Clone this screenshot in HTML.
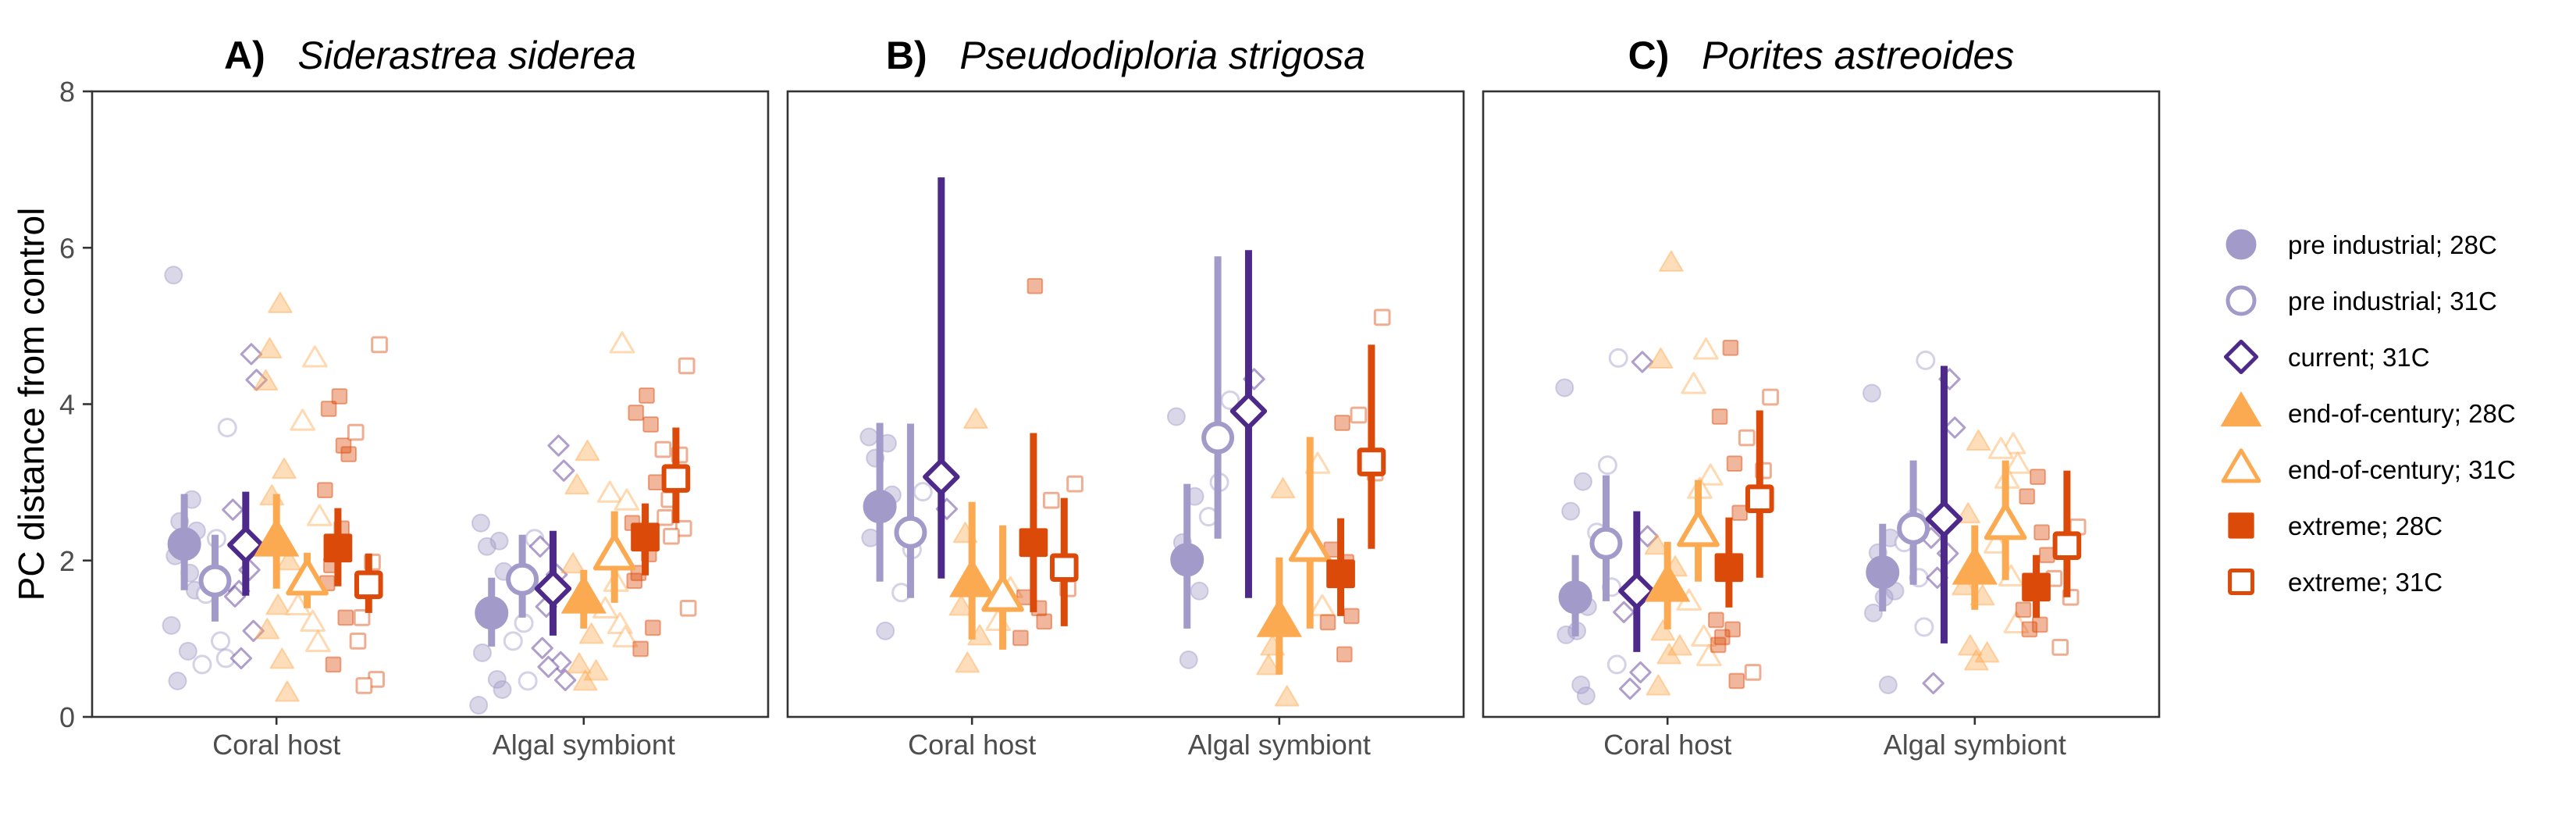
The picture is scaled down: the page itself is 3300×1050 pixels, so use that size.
<!DOCTYPE html>
<html><head><meta charset="utf-8">
<style>
html,body{margin:0;padding:0;background:#fff;}
svg{display:block;font-family:"Liberation Sans",Arial,sans-serif;}
</style></head>
<body>
<svg id="chart" width="3300" height="1050" viewBox="0 0 3300 1050" xmlns="http://www.w3.org/2000/svg">
<rect width="3300" height="1050" fill="#fff"/>
<g id="plots"></g>
<g id="legend"></g>
</svg>
<script>
// ---------- data ----------
const panelTitles = ["A)", "B)", "C)"];
const speciesNames = ["Siderastrea siderea", "Pseudodiploria strigosa", "Porites astreoides"];
const categories = ["Coral host", "Algal symbiont"];
const groupLabels = ["pre industrial; 28C","pre industrial; 31C","current; 31C","end-of-century; 28C","end-of-century; 31C","extreme; 28C","extreme; 31C"];
const yTicks = [0, 2, 4, 6, 8];
// means[panel][category][group]
const means = [
  [[2.21,1.74,2.20,2.24,1.74,2.16,1.69],[1.33,1.76,1.64,1.51,2.06,2.30,3.05]],
  [[2.69,2.36,3.07,1.72,1.53,2.23,1.91],[2.01,3.57,3.91,1.21,2.17,1.83,3.26]],
  [[1.53,2.22,1.61,1.66,2.36,1.91,2.79],[1.85,2.41,2.53,1.88,2.45,1.66,2.19]]
];
const errLow = [
  [[1.62,1.22,1.55,1.64,1.39,1.67,1.33],[0.90,1.27,1.04,1.13,1.46,1.81,2.48]],
  [[1.73,1.52,1.77,0.99,0.86,1.34,1.16],[1.13,2.28,1.52,0.54,1.13,1.29,2.15]],
  [[1.03,1.48,0.83,1.12,1.73,1.40,1.78],[1.35,1.69,0.94,1.37,1.75,1.27,1.53]]
];
const errHigh = [
  [[2.85,2.33,2.88,2.85,2.10,2.67,2.09],[1.78,2.33,2.38,1.88,2.63,2.73,3.70]],
  [[3.76,3.75,6.90,2.75,2.45,3.63,2.80],[2.98,5.89,5.97,2.04,3.58,2.54,4.76]],
  [[2.07,3.09,2.63,2.24,3.03,2.55,3.92],[2.47,3.28,4.49,2.45,3.28,2.07,3.15]]
];
// rawPoints[panel][category][group] = list of replicate values
const rawPoints = [
  [
    [[5.65,2.78,2.5,2.38,2.21,2.06,1.84,1.62,1.17,0.84,0.46],[3.7,2.28,1.57,0.97,0.75,0.67],[4.64,4.31,2.65,1.88,1.61,1.54,1.1,0.75],[5.27,4.69,4.28,3.15,2.81,1.98,1.41,1.1,0.72,0.3],[4.58,3.77,2.55,1.81,1.41,1.2,0.94],[4.1,3.94,3.47,3.36,2.9,2.41,1.94,1.71,1.27,0.67],[4.76,3.64,1.98,1.27,0.97,0.48,0.4]],
    [[2.48,2.25,2.18,1.86,1.41,0.82,0.48,0.35,0.15],[2.28,1.2,0.97,0.46],[3.47,3.15,2.18,1.82,1.41,0.88,0.7,0.64,0.47],[3.38,2.95,1.94,1.04,0.66,0.57,0.44],[4.76,2.85,2.75,1.71,1.37,1.17,1.0],[4.11,3.89,3.74,3.0,2.48,2.08,1.84,1.74,1.14,0.87],[4.49,3.42,3.35,2.78,2.55,2.41,2.31,1.39]]
  ],
  [
    [[3.58,3.5,3.31,2.84,2.69,2.29,1.1],[2.88,2.14,1.59],[2.66],[3.79,2.33,1.4,1.02,0.67],[1.63,1.21],[5.51,1.53,1.39,1.22,1.01],[2.98,2.77,1.64]],
    [[3.84,2.82,2.23,1.61,0.73],[4.05,3.0,2.56],[4.32],[2.9,0.89,0.64,0.24],[3.22,2.12,1.4],[3.76,2.14,1.98,1.29,1.21,0.8],[5.11,3.86,3.12]]
  ],
  [
    [[4.21,3.01,2.63,1.41,1.1,1.05,0.41,0.27],[4.59,3.22,2.36,1.66,0.67],[4.54,2.31,1.34,0.57,0.36],[5.8,4.56,2.18,1.9,1.08,0.89,0.78,0.38],[4.68,4.24,3.07,2.9,1.47,1.01,0.76],[4.72,3.84,3.24,2.61,1.24,1.12,1.02,0.92,0.46],[4.09,3.57,3.15,0.57]],
    [[4.14,2.29,2.1,1.61,1.53,1.33,0.41],[4.56,2.55,2.23,1.78,1.15],[4.32,3.7,2.29,2.09,1.78,0.43],[3.51,2.58,1.66,1.53,0.89,0.8,0.7],[3.47,3.41,3.22,3.03,2.2,1.78,1.18],[3.07,2.82,2.36,2.07,1.37,1.18,1.12],[2.43,1.77,1.53,0.89]]
  ]
];

// ---------- styles ----------
const colors = ["#a29ac8","#a29ac8","#4d2a8a","#fcaa52","#fcaa52","#dc4a0a","#dc4a0a"];
const shapes = ["circle","circle","diamond","triangle","triangle","square","square"];
const filled = [true,false,false,true,false,true,false];
const NS = "http://www.w3.org/2000/svg";
const panelLeft = [118, 1009, 1900];
const panelW = 866, plotTop = 117, plotBottom = 918;
const yMax = 8;
function yScale(v){ return plotBottom - v/yMax*(plotBottom-plotTop); }
function xScale(p, cat, g){ const u = panelW/2.2; return panelLeft[p] + (cat+1-0.4 + (g-3)*0.1)*u; }
function mk(tag, attrs, parent){ const e=document.createElementNS(NS,tag); for(const k in attrs) e.setAttribute(k,attrs[k]); parent.appendChild(e); return e; }

function drawShape(parent, shape, x, y, size, color, isFilled, sw, fillOp, strokeOp){
  let e;
  const fill = isFilled ? color : (fillOp===0 ? "none" : "#fff");
  const common = {fill:fill, stroke:color, "stroke-width":sw, "fill-opacity":isFilled?fillOp:1, "stroke-opacity":strokeOp, "stroke-linejoin":"round"};
  if(shape==="circle"){ e = mk("circle", Object.assign({cx:x, cy:y, r:size}, common), parent); }
  else if(shape==="square"){ const s=size*0.85; e = mk("rect", Object.assign({x:x-s, y:y-s, width:2*s, height:2*s, rx:2}, common), parent); }
  else if(shape==="diamond"){ const d=size*1.15; e = mk("polygon", Object.assign({points:`${x},${y-d} ${x+d},${y} ${x},${y+d} ${x-d},${y}`}, common), parent); }
  else { const w=size*1.35, h=size*2.3; e = mk("polygon", Object.assign({points:`${x},${y-h*0.62} ${x+w},${y+h*0.38} ${x-w},${y+h*0.38}`}, common), parent); }
  return e;
}

const plots = document.getElementById("plots");
const jit = [-0.035,0.025,-0.015,0.04,0.005,-0.03,0.018,0.035,-0.042,0.012,-0.022];

for(let p=0;p<3;p++){
  const g = mk("g", {}, plots);
  
  
  const L = panelLeft[p], cx = L + panelW/2;
  const t = mk("text", {x:cx, y:88, "text-anchor":"middle", "font-size":50, fill:"#000"}, g);
  
  
  const t1 = mk("tspan", {"font-weight":"bold"}, t); t1.textContent = panelTitles[p];
  const t2 = mk("tspan", {"font-style":"italic"}, t); t2.textContent = "\u00a0\u00a0\u00a0" + speciesNames[p];
  const fr = mk("rect", {x:L, y:plotTop, width:panelW, height:plotBottom-plotTop, fill:"none", stroke:"#333", "stroke-width":2.6}, g);
  
  
  for(let c=0;c<2;c++){
    const x = xScale(p,c,3);
    const tk = mk("line", {x1:x, x2:x, y1:plotBottom, y2:plotBottom+10, stroke:"#333", "stroke-width":2.6}, g);
    
    
    const lb = mk("text", {x:x, y:966, "text-anchor":"middle", "font-size":36, fill:"#4d4d4d"}, g);
    
    
    lb.textContent = categories[c];
  }
  if(p===0){
    yTicks.forEach(v=>{
      const y=yScale(v);
      const tk = mk("line", {x1:L-12, x2:L, y1:y, y2:y, stroke:"#333", "stroke-width":2.6}, g);
      
      
      const lb = mk("text", {x:L-22, y:y+13, "text-anchor":"end", "font-size":36, fill:"#4d4d4d"}, g);
      
      
      lb.textContent = v;
    });
    const yt = mk("text", {x:0, y:0, "text-anchor":"middle", "font-size":46, fill:"#000", transform:`translate(56,${(plotTop+plotBottom)/2}) rotate(-90)`}, g);
    
    
    yt.textContent = "PC distance from control";
  }
  for(let c=0;c<2;c++){
    for(let k=0;k<7;k++){
      rawPoints[p][c][k].forEach((v,i)=>{
        const x = xScale(p,c,k) + jit[(i+k*3)%jit.length]*panelW/2.2;
        const e = drawShape(g, shapes[k], x, yScale(v), 11, colors[k], filled[k], filled[k]?2:3, 0.4, 0.45);
        
        
      });
    }
  }
  for(let c=0;c<2;c++){
    for(let k=0;k<7;k++){
      const x = xScale(p,c,k);
      const eb = mk("line", {x1:x, x2:x, y1:yScale(errLow[p][c][k]), y2:yScale(errHigh[p][c][k]), stroke:colors[k], "stroke-width":9}, g);
      
      
      const m = drawShape(g, shapes[k], x, yScale(means[p][c][k]), filled[k]?21:18, colors[k], filled[k], filled[k]?1:6, 1, 1);
      
      
    }
  }
}

const lg = document.getElementById("legend");
groupLabels.forEach((lab,k)=>{
  const y = 313 + k*72;
  const item = mk("g", {}, lg);
  
  
  const s = drawShape(item, shapes[k], 2871, y, filled[k]?19:17, colors[k], filled[k], filled[k]?1:5, 1, 1);
  
  
  const t = mk("text", {x:2931, y:y+12, "font-size":33, fill:"#000"}, item);
  
  
  t.textContent = lab;
});
</script>
</body></html>
